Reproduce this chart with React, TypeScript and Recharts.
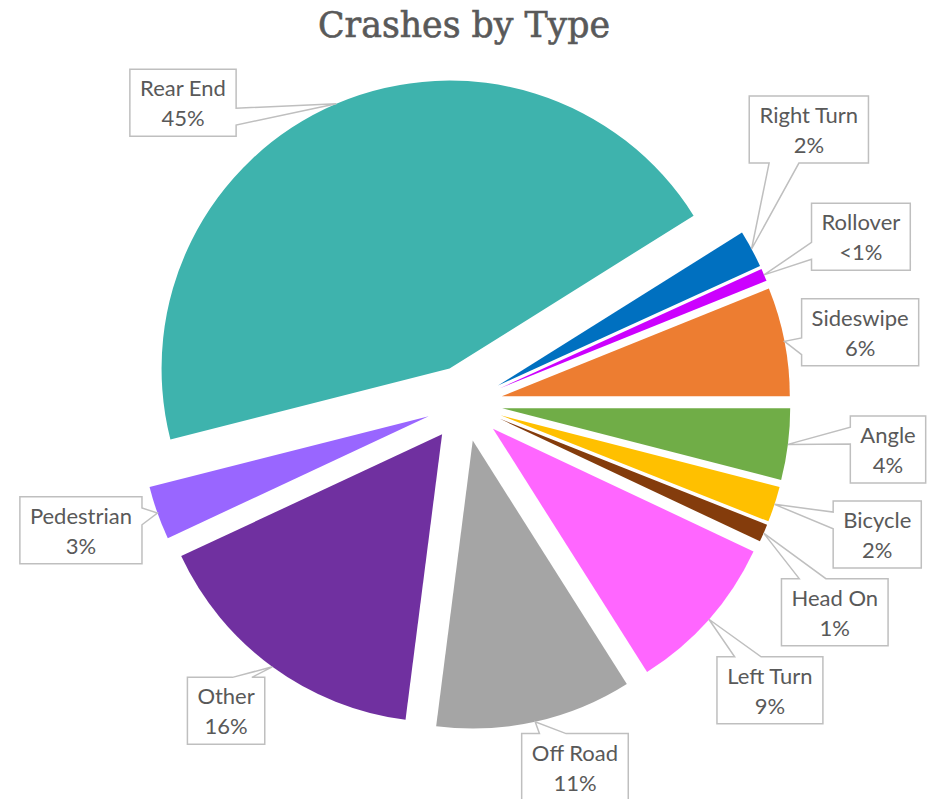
import { Cell, Pie, PieChart } from "recharts";

// data, in the order the workbook lists it (alphabetical)
const categories = [
  "Angle",
  "Bicycle",
  "Head On",
  "Left Turn",
  "Off Road",
  "Other",
  "Pedestrian",
  "Rear End",
  "Right Turn",
  "Rollover",
  "Sideswipe",
];
const shares = [4, 2, 1, 9, 11, 16, 3, 45, 2.1, 0.7, 6.1];
const colors = [
  "#70AD47",
  "#FFC000",
  "#843C0C",
  "#FF66FF",
  "#A5A5A5",
  "#7030A0",
  "#9966FF",
  "#3EB3AD",
  "#0070C0",
  "#CC00FF",
  "#ED7D31",
];

// where each callout box sits: polar position of its centre around the pie centre
const calloutAngle = [-6.2, -17.6, -29.4, -43.2, -73.1, 232.2, 198.3, 133.1, 38.5, 22.8, 10.2];
const calloutDistance = [426, 433, 425, 419, 380, 389, 404, 412, 440, 430, 402];

const WIDTH = 934;
const HEIGHT = 799;
const CX = 464.5;
const CY = 403.5;
const RADIUS = 288;
const EXPLODE = 38;
const START = 0;
const RAD = Math.PI / 180;

const LABEL_FONT = "Lato, 'Liberation Sans', sans-serif";
const LABEL_SIZE = 22;
const TEXT_COLOR = "#595959";

const total = shares.reduce((a, b) => a + b, 0);

const slices = categories.map((name, i) => {
  const before = shares.slice(0, i).reduce((a, b) => a + b, 0);
  const start = START - (before / total) * 360;
  const end = START - ((before + shares[i]) / total) * 360;
  const mid = (start + end) / 2;
  return {
    name,
    value: shares[i],
    pct: (shares[i] / total) * 100,
    start,
    end,
    cx: CX + EXPLODE * Math.cos(mid * RAD),
    cy: CY - EXPLODE * Math.sin(mid * RAD),
    color: colors[i],
  };
});

let measureCtx: CanvasRenderingContext2D | null = null;
function textWidth(text: string) {
  if (!measureCtx && typeof document !== "undefined") {
    measureCtx = document.createElement("canvas").getContext("2d");
  }
  if (!measureCtx) return text.length * LABEL_SIZE * 0.5;
  measureCtx.font = `${LABEL_SIZE}px Lato`;
  return measureCtx.measureText(text).width;
}

// same outline as the office "wedgeRectCallout" shape
function calloutPath(l: number, t: number, w: number, h: number, tx: number, ty: number) {
  const r = l + w;
  const b = t + h;
  const dxPos = tx - (l + w / 2);
  const dyPos = ty - (t + h / 2);
  const dq = (dxPos * h) / w;
  const dz = Math.abs(dyPos) - Math.abs(dq);
  const xg1 = l + ((dxPos > 0 ? 7 : 2) * w) / 12;
  const xg2 = l + ((dxPos > 0 ? 10 : 5) * w) / 12;
  const yg1 = t + ((dyPos > 0 ? 7 : 2) * h) / 12;
  const yg2 = t + ((dyPos > 0 ? 10 : 5) * h) / 12;
  const side = dz > 0 ? (dyPos < 0 ? "top" : "bottom") : dxPos < 0 ? "left" : "right";

  let d = `M${l},${t}`;
  if (side === "top") d += ` L${xg1},${t} L${tx},${ty} L${xg2},${t}`;
  d += ` L${r},${t}`;
  if (side === "right") d += ` L${r},${yg1} L${tx},${ty} L${r},${yg2}`;
  d += ` L${r},${b}`;
  if (side === "bottom") d += ` L${xg2},${b} L${tx},${ty} L${xg1},${b}`;
  d += ` L${l},${b}`;
  if (side === "left") d += ` L${l},${yg2} L${tx},${ty} L${l},${yg1}`;
  return d + " Z";
}

function Callout({ index, props }: { index: number; props: any }) {
  const slice = slices[index];
  const cx = Number(props.cx ?? slice.cx);
  const cy = Number(props.cy ?? slice.cy);
  const outer = Number(props.outerRadius ?? RADIUS);
  const mid = Number(props.midAngle ?? (slice.start + slice.end) / 2);
  const tipX = cx + outer * Math.cos(-mid * RAD);
  const tipY = cy + outer * Math.sin(-mid * RAD);

  const pctText = slice.pct < 1 ? "<1%" : `${Math.round(slice.pct)}%`;
  const w = Math.max(textWidth(slice.name), textWidth(pctText)) + 20;
  const h = 67;
  const bx = CX + calloutDistance[index] * Math.cos(calloutAngle[index] * RAD);
  const by = CY - calloutDistance[index] * Math.sin(calloutAngle[index] * RAD);
  const l = bx - w / 2;
  const t = by - h / 2;

  return (
    <g>
      <path
        d={calloutPath(l, t, w, h, tipX, tipY)}
        fill="#ffffff"
        stroke="#BFBFBF"
        strokeWidth={1.5}
      />
      <text
        textAnchor="middle"
        fontFamily={LABEL_FONT}
        fontSize={LABEL_SIZE}
        fill={TEXT_COLOR}
      >
        <tspan x={bx} y={t + 27}>
          {slice.name}
        </tspan>
        <tspan x={bx} y={t + 57}>
          {pctText}
        </tspan>
      </text>
    </g>
  );
}

export default function App() {
  return (
    <div
      style={{
        position: "absolute",
        left: 0,
        top: 0,
        width: WIDTH,
        height: HEIGHT,
        background: "#ffffff",
        overflow: "hidden",
      }}
    >
      <PieChart width={WIDTH} height={HEIGHT} margin={{ top: 0, right: 0, bottom: 0, left: 0 }}>
        {slices.map((slice, i) => (
          <Pie
            key={slice.name}
            data={[{ name: slice.name, value: slice.value }]}
            dataKey="value"
            nameKey="name"
            cx={slice.cx}
            cy={slice.cy}
            innerRadius={0}
            outerRadius={RADIUS}
            startAngle={slice.start}
            endAngle={slice.end}
            stroke="none"
            isAnimationActive={false}
            labelLine={false}
            label={(p: any) => <Callout index={i} props={p} />}
          >
            <Cell fill={slice.color} />
          </Pie>
        ))}
      </PieChart>
      <svg
        width={WIDTH}
        height={60}
        style={{ position: "absolute", left: 0, top: 0, pointerEvents: "none" }}
      >
        <text
          x={464}
          y={37}
          textAnchor="middle"
          fontFamily="'DejaVu Serif', serif"
          fontSize={35}
          fill={TEXT_COLOR}
          stroke={TEXT_COLOR}
          strokeWidth={0.6}
          textLength={292}
          lengthAdjust="spacingAndGlyphs"
        >
          Crashes by Type
        </text>
      </svg>
    </div>
  );
}
